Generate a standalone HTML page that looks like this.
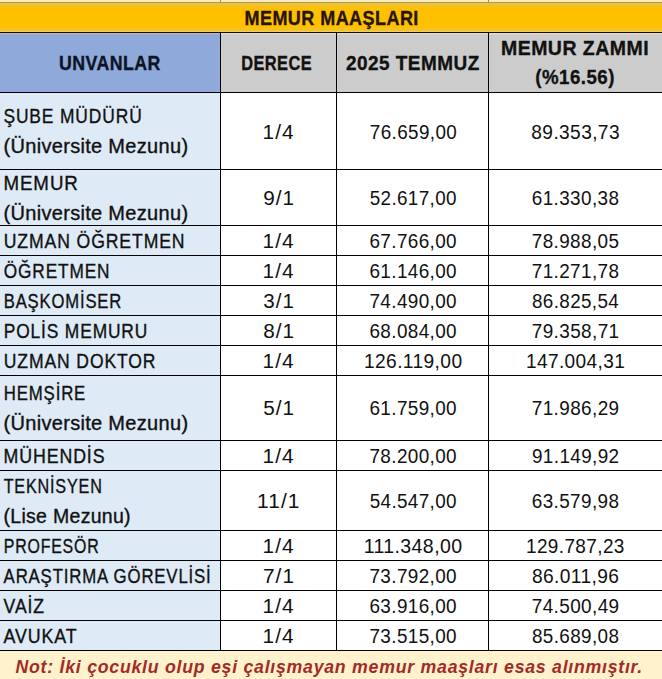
<!DOCTYPE html>
<html><head><meta charset="utf-8"><style>html,body{margin:0;padding:0;width:662px;height:679px;overflow:hidden;background:#fff;font-family:"Liberation Sans",sans-serif}</style></head>
<body><svg width="662" height="679" viewBox="0 0 662 679" style="display:block">
<rect x="0" y="0" width="662" height="679" fill="#fff"/>
<defs><linearGradient id="yg" x1="0" y1="0" x2="0" y2="1"><stop offset="0" stop-color="#E2C158"/><stop offset="1" stop-color="#FFC000"/></linearGradient><linearGradient id="yg2" x1="0" y1="0" x2="0" y2="1"><stop offset="0" stop-color="#FFC000"/><stop offset="1" stop-color="#ECC43A"/></linearGradient></defs>
<rect x="0" y="0" width="662" height="3" fill="#FCEBBA"/>
<rect x="0" y="2" width="662" height="1" fill="#B39A45"/>
<rect x="220" y="0" width="1" height="2" fill="#9b8a5a"/>
<rect x="488" y="0" width="1" height="2" fill="#9b8a5a"/>
<rect x="0" y="3" width="662" height="29" fill="#FFC000"/>
<rect x="0" y="3" width="662" height="5" fill="url(#yg)"/>
<rect x="0" y="33" width="220" height="59" fill="#8FA9DA"/>
<rect x="221" y="33" width="441" height="59" fill="#CDCCCC"/>
<rect x="0" y="93" width="220" height="557" fill="#DEEAF6"/>
<rect x="0" y="651" width="662" height="28" fill="#FFF2CC"/>
<rect x="0" y="27" width="662" height="4" fill="url(#yg2)"/>
<rect x="0" y="31" width="662" height="1" fill="#EDCB6C"/>
<rect x="0" y="33" width="220" height="1" fill="#B3B8C9"/>
<rect x="0" y="34" width="220" height="1" fill="#9DA8D0"/>
<rect x="221" y="33" width="441" height="1" fill="#E2DCD6"/>
<rect x="221" y="34" width="441" height="1" fill="#D6D1CE"/>
<rect x="0" y="32" width="662" height="1" fill="#000"/><rect x="0" y="92" width="662" height="1" fill="#000"/><rect x="0" y="169" width="662" height="1" fill="#000"/><rect x="0" y="225" width="662" height="1" fill="#000"/><rect x="0" y="255" width="662" height="1" fill="#000"/><rect x="0" y="285" width="662" height="1" fill="#000"/><rect x="0" y="315" width="662" height="1" fill="#000"/><rect x="0" y="345" width="662" height="1" fill="#000"/><rect x="0" y="375" width="662" height="1" fill="#000"/><rect x="0" y="440" width="662" height="1" fill="#000"/><rect x="0" y="470" width="662" height="1" fill="#000"/><rect x="0" y="530" width="662" height="1" fill="#000"/><rect x="0" y="560" width="662" height="1" fill="#000"/><rect x="0" y="590" width="662" height="1" fill="#000"/><rect x="0" y="620" width="662" height="1" fill="#000"/><rect x="0" y="650" width="662" height="1" fill="#000"/><rect x="220" y="32" width="1" height="619" fill="#000"/><rect x="336" y="32" width="1" height="619" fill="#000"/><rect x="488" y="32" width="1" height="619" fill="#000"/>
<rect x="0" y="32" width="662" height="1" fill="#1E0E00"/>
<g font-family="Liberation Sans" font-size="19.9">
<text transform="translate(244.52 24.70) scale(0.9048 1)" font-weight="bold" font-style="normal" letter-spacing="0.5" fill="#26140a" stroke="#26140a" stroke-width="0.35" font-size="19.9">MEMUR MAAŞLARI</text>
<text transform="translate(58.94 69.90) scale(0.8918 1)" font-weight="bold" font-style="normal" letter-spacing="0.5" fill="#0c1424" stroke="#0c1424" stroke-width="0.35" font-size="19.9">UNVANLAR</text>
<text transform="translate(241.22 69.50) scale(0.8239 1)" font-weight="bold" font-style="normal" letter-spacing="0.5" fill="#111" stroke="#111" stroke-width="0.35" font-size="19.9">DERECE</text>
<text transform="translate(346.03 70.10) scale(0.9525 1)" font-weight="bold" font-style="normal" letter-spacing="0.5" fill="#111" stroke="#111" stroke-width="0.35" font-size="19.9">2025 TEMMUZ</text>
<text transform="translate(500.93 54.85) scale(0.9794 1)" font-weight="bold" font-style="normal" letter-spacing="0.5" fill="#111" stroke="#111" stroke-width="0.35" font-size="19.9">MEMUR ZAMMI</text>
<text transform="translate(535.35 84.40) scale(0.9383 1)" font-weight="bold" font-style="normal" letter-spacing="0.5" fill="#111" stroke="#111" stroke-width="0.35" font-size="19.9">(%16.56)</text>
<text transform="translate(3.40 122.80) scale(0.8748 1)" font-weight="normal" font-style="normal" letter-spacing="1.0" fill="#111" stroke="#111" stroke-width="0.35" font-size="19.9">ŞUBE MÜDÜRÜ</text>
<text transform="translate(3.50 152.60) scale(1.0266 1)" font-weight="normal" font-style="normal" letter-spacing="0.3" fill="#111" stroke="#111" stroke-width="0.35" font-size="19.5">(Üniversite Mezunu)</text>
<text transform="translate(262.51 138.70) scale(1.0472 1)" font-weight="normal" font-style="normal" letter-spacing="1.0" fill="#111" stroke="#111" stroke-width="0.0" font-size="19.9">1/4</text>
<text transform="translate(369.86 138.50) scale(0.9476 1)" font-weight="normal" font-style="normal" letter-spacing="0.4" fill="#111" stroke="#111" stroke-width="0.0" font-size="19.9">76.659,00</text>
<text transform="translate(531.33 138.50) scale(0.9622 1)" font-weight="normal" font-style="normal" letter-spacing="0.4" fill="#111" stroke="#111" stroke-width="0.0" font-size="19.9">89.353,73</text>
<text transform="translate(3.40 189.60) scale(0.9409 1)" font-weight="normal" font-style="normal" letter-spacing="1.0" fill="#111" stroke="#111" stroke-width="0.35" font-size="19.9">MEMUR</text>
<text transform="translate(3.50 219.50) scale(1.0266 1)" font-weight="normal" font-style="normal" letter-spacing="0.3" fill="#111" stroke="#111" stroke-width="0.35" font-size="19.5">(Üniversite Mezunu)</text>
<text transform="translate(263.14 204.80) scale(1.0397 1)" font-weight="normal" font-style="normal" letter-spacing="1.0" fill="#111" stroke="#111" stroke-width="0.0" font-size="19.9">9/1</text>
<text transform="translate(369.65 204.80) scale(0.9487 1)" font-weight="normal" font-style="normal" letter-spacing="0.4" fill="#111" stroke="#111" stroke-width="0.0" font-size="19.9">52.617,00</text>
<text transform="translate(531.76 204.80) scale(0.9508 1)" font-weight="normal" font-style="normal" letter-spacing="0.4" fill="#111" stroke="#111" stroke-width="0.0" font-size="19.9">61.330,38</text>
<text transform="translate(3.77 247.80) scale(0.8857 1)" font-weight="normal" font-style="normal" letter-spacing="1.0" fill="#111" stroke="#111" stroke-width="0.35" font-size="19.9">UZMAN ÖĞRETMEN</text>
<text transform="translate(262.51 247.80) scale(1.0472 1)" font-weight="normal" font-style="normal" letter-spacing="1.0" fill="#111" stroke="#111" stroke-width="0.0" font-size="19.9">1/4</text>
<text transform="translate(369.46 247.80) scale(0.9508 1)" font-weight="normal" font-style="normal" letter-spacing="0.4" fill="#111" stroke="#111" stroke-width="0.0" font-size="19.9">67.766,00</text>
<text transform="translate(531.76 247.80) scale(0.9508 1)" font-weight="normal" font-style="normal" letter-spacing="0.4" fill="#111" stroke="#111" stroke-width="0.0" font-size="19.9">78.988,05</text>
<text transform="translate(3.71 277.80) scale(0.8677 1)" font-weight="normal" font-style="normal" letter-spacing="1.0" fill="#111" stroke="#111" stroke-width="0.35" font-size="19.9">ÖĞRETMEN</text>
<text transform="translate(262.51 277.80) scale(1.0472 1)" font-weight="normal" font-style="normal" letter-spacing="1.0" fill="#111" stroke="#111" stroke-width="0.0" font-size="19.9">1/4</text>
<text transform="translate(369.46 277.80) scale(0.9508 1)" font-weight="normal" font-style="normal" letter-spacing="0.4" fill="#111" stroke="#111" stroke-width="0.0" font-size="19.9">61.146,00</text>
<text transform="translate(531.76 277.80) scale(0.9508 1)" font-weight="normal" font-style="normal" letter-spacing="0.4" fill="#111" stroke="#111" stroke-width="0.0" font-size="19.9">71.271,78</text>
<text transform="translate(3.77 307.80) scale(0.8360 1)" font-weight="normal" font-style="normal" letter-spacing="1.0" fill="#111" stroke="#111" stroke-width="0.35" font-size="19.9">BAŞKOMİSER</text>
<text transform="translate(263.35 307.80) scale(1.0324 1)" font-weight="normal" font-style="normal" letter-spacing="1.0" fill="#111" stroke="#111" stroke-width="0.0" font-size="19.9">3/1</text>
<text transform="translate(369.46 307.80) scale(0.9508 1)" font-weight="normal" font-style="normal" letter-spacing="0.4" fill="#111" stroke="#111" stroke-width="0.0" font-size="19.9">74.490,00</text>
<text transform="translate(531.96 307.80) scale(0.9466 1)" font-weight="normal" font-style="normal" letter-spacing="0.4" fill="#111" stroke="#111" stroke-width="0.0" font-size="19.9">86.825,54</text>
<text transform="translate(3.71 337.80) scale(0.8728 1)" font-weight="normal" font-style="normal" letter-spacing="1.0" fill="#111" stroke="#111" stroke-width="0.35" font-size="19.9">POLİS MEMURU</text>
<text transform="translate(263.14 337.80) scale(1.0397 1)" font-weight="normal" font-style="normal" letter-spacing="1.0" fill="#111" stroke="#111" stroke-width="0.0" font-size="19.9">8/1</text>
<text transform="translate(369.46 337.80) scale(0.9508 1)" font-weight="normal" font-style="normal" letter-spacing="0.4" fill="#111" stroke="#111" stroke-width="0.0" font-size="19.9">68.084,00</text>
<text transform="translate(531.76 337.80) scale(0.9529 1)" font-weight="normal" font-style="normal" letter-spacing="0.4" fill="#111" stroke="#111" stroke-width="0.0" font-size="19.9">79.358,71</text>
<text transform="translate(3.77 367.80) scale(0.8827 1)" font-weight="normal" font-style="normal" letter-spacing="1.0" fill="#111" stroke="#111" stroke-width="0.35" font-size="19.9">UZMAN DOKTOR</text>
<text transform="translate(262.51 367.80) scale(1.0472 1)" font-weight="normal" font-style="normal" letter-spacing="1.0" fill="#111" stroke="#111" stroke-width="0.0" font-size="19.9">1/4</text>
<text transform="translate(363.96 367.80) scale(0.9648 1)" font-weight="normal" font-style="normal" letter-spacing="0.4" fill="#111" stroke="#111" stroke-width="0.0" font-size="19.9">126.119,00</text>
<text transform="translate(525.97 367.80) scale(0.9575 1)" font-weight="normal" font-style="normal" letter-spacing="0.4" fill="#111" stroke="#111" stroke-width="0.0" font-size="19.9">147.004,31</text>
<text transform="translate(3.76 399.80) scale(0.8438 1)" font-weight="normal" font-style="normal" letter-spacing="1.0" fill="#111" stroke="#111" stroke-width="0.35" font-size="19.9">HEMŞİRE</text>
<text transform="translate(3.50 429.50) scale(1.0266 1)" font-weight="normal" font-style="normal" letter-spacing="0.3" fill="#111" stroke="#111" stroke-width="0.35" font-size="19.5">(Üniversite Mezunu)</text>
<text transform="translate(263.14 415.30) scale(1.0397 1)" font-weight="normal" font-style="normal" letter-spacing="1.0" fill="#111" stroke="#111" stroke-width="0.0" font-size="19.9">5/1</text>
<text transform="translate(369.46 415.30) scale(0.9508 1)" font-weight="normal" font-style="normal" letter-spacing="0.4" fill="#111" stroke="#111" stroke-width="0.0" font-size="19.9">61.759,00</text>
<text transform="translate(531.76 415.30) scale(0.9529 1)" font-weight="normal" font-style="normal" letter-spacing="0.4" fill="#111" stroke="#111" stroke-width="0.0" font-size="19.9">71.986,29</text>
<text transform="translate(3.48 462.80) scale(0.8943 1)" font-weight="normal" font-style="normal" letter-spacing="1.0" fill="#111" stroke="#111" stroke-width="0.35" font-size="19.9">MÜHENDİS</text>
<text transform="translate(262.51 462.80) scale(1.0472 1)" font-weight="normal" font-style="normal" letter-spacing="1.0" fill="#111" stroke="#111" stroke-width="0.0" font-size="19.9">1/4</text>
<text transform="translate(369.46 462.80) scale(0.9508 1)" font-weight="normal" font-style="normal" letter-spacing="0.4" fill="#111" stroke="#111" stroke-width="0.0" font-size="19.9">78.200,00</text>
<text transform="translate(531.95 462.80) scale(0.9508 1)" font-weight="normal" font-style="normal" letter-spacing="0.4" fill="#111" stroke="#111" stroke-width="0.0" font-size="19.9">91.149,92</text>
<text transform="translate(3.68 492.90) scale(0.8129 1)" font-weight="normal" font-style="normal" letter-spacing="1.0" fill="#111" stroke="#111" stroke-width="0.35" font-size="19.9">TEKNİSYEN</text>
<text transform="translate(3.53 522.80) scale(0.9996 1)" font-weight="normal" font-style="normal" letter-spacing="0.3" fill="#111" stroke="#111" stroke-width="0.35" font-size="19.5">(Lise Mezunu)</text>
<text transform="translate(257.10 507.80) scale(1.0508 1)" font-weight="normal" font-style="normal" letter-spacing="1.0" fill="#111" stroke="#111" stroke-width="0.0" font-size="19.9">11/1</text>
<text transform="translate(369.65 507.80) scale(0.9487 1)" font-weight="normal" font-style="normal" letter-spacing="0.4" fill="#111" stroke="#111" stroke-width="0.0" font-size="19.9">54.547,00</text>
<text transform="translate(531.76 507.80) scale(0.9508 1)" font-weight="normal" font-style="normal" letter-spacing="0.4" fill="#111" stroke="#111" stroke-width="0.0" font-size="19.9">63.579,98</text>
<text transform="translate(3.83 552.80) scale(0.7992 1)" font-weight="normal" font-style="normal" letter-spacing="1.0" fill="#111" stroke="#111" stroke-width="0.35" font-size="19.9">PROFESÖR</text>
<text transform="translate(262.51 552.80) scale(1.0472 1)" font-weight="normal" font-style="normal" letter-spacing="1.0" fill="#111" stroke="#111" stroke-width="0.0" font-size="19.9">1/4</text>
<text transform="translate(363.64 552.80) scale(0.9823 1)" font-weight="normal" font-style="normal" letter-spacing="0.4" fill="#111" stroke="#111" stroke-width="0.0" font-size="19.9">111.348,00</text>
<text transform="translate(525.98 552.80) scale(0.9536 1)" font-weight="normal" font-style="normal" letter-spacing="0.4" fill="#111" stroke="#111" stroke-width="0.0" font-size="19.9">129.787,23</text>
<text transform="translate(3.60 582.80) scale(0.8436 1)" font-weight="normal" font-style="normal" letter-spacing="1.0" fill="#111" stroke="#111" stroke-width="0.35" font-size="19.9">ARAŞTIRMA GÖREVLİSİ</text>
<text transform="translate(262.93 582.80) scale(1.0472 1)" font-weight="normal" font-style="normal" letter-spacing="1.0" fill="#111" stroke="#111" stroke-width="0.0" font-size="19.9">7/1</text>
<text transform="translate(369.46 582.80) scale(0.9508 1)" font-weight="normal" font-style="normal" letter-spacing="0.4" fill="#111" stroke="#111" stroke-width="0.0" font-size="19.9">73.792,00</text>
<text transform="translate(531.94 582.80) scale(0.9644 1)" font-weight="normal" font-style="normal" letter-spacing="0.4" fill="#111" stroke="#111" stroke-width="0.0" font-size="19.9">86.011,96</text>
<text transform="translate(3.60 612.80) scale(0.8839 1)" font-weight="normal" font-style="normal" letter-spacing="1.0" fill="#111" stroke="#111" stroke-width="0.35" font-size="19.9">VAİZ</text>
<text transform="translate(262.51 612.80) scale(1.0472 1)" font-weight="normal" font-style="normal" letter-spacing="1.0" fill="#111" stroke="#111" stroke-width="0.0" font-size="19.9">1/4</text>
<text transform="translate(369.46 612.80) scale(0.9508 1)" font-weight="normal" font-style="normal" letter-spacing="0.4" fill="#111" stroke="#111" stroke-width="0.0" font-size="19.9">63.916,00</text>
<text transform="translate(531.76 612.80) scale(0.9529 1)" font-weight="normal" font-style="normal" letter-spacing="0.4" fill="#111" stroke="#111" stroke-width="0.0" font-size="19.9">74.500,49</text>
<text transform="translate(3.60 642.80) scale(0.8960 1)" font-weight="normal" font-style="normal" letter-spacing="1.0" fill="#111" stroke="#111" stroke-width="0.35" font-size="19.9">AVUKAT</text>
<text transform="translate(262.51 642.80) scale(1.0472 1)" font-weight="normal" font-style="normal" letter-spacing="1.0" fill="#111" stroke="#111" stroke-width="0.0" font-size="19.9">1/4</text>
<text transform="translate(369.46 642.80) scale(0.9508 1)" font-weight="normal" font-style="normal" letter-spacing="0.4" fill="#111" stroke="#111" stroke-width="0.0" font-size="19.9">73.515,00</text>
<text transform="translate(531.95 642.80) scale(0.9487 1)" font-weight="normal" font-style="normal" letter-spacing="0.4" fill="#111" stroke="#111" stroke-width="0.0" font-size="19.9">85.689,08</text>
<text transform="translate(15.52 672.80) scale(0.9236 1)" font-weight="bold" font-style="italic" letter-spacing="0.8" fill="#a32a25" stroke="#a32a25" stroke-width="0.0" font-size="19.2">Not: İki çocuklu olup eşi çalışmayan memur maaşları esas alınmıştır.</text>
</g>
</svg></body></html>
